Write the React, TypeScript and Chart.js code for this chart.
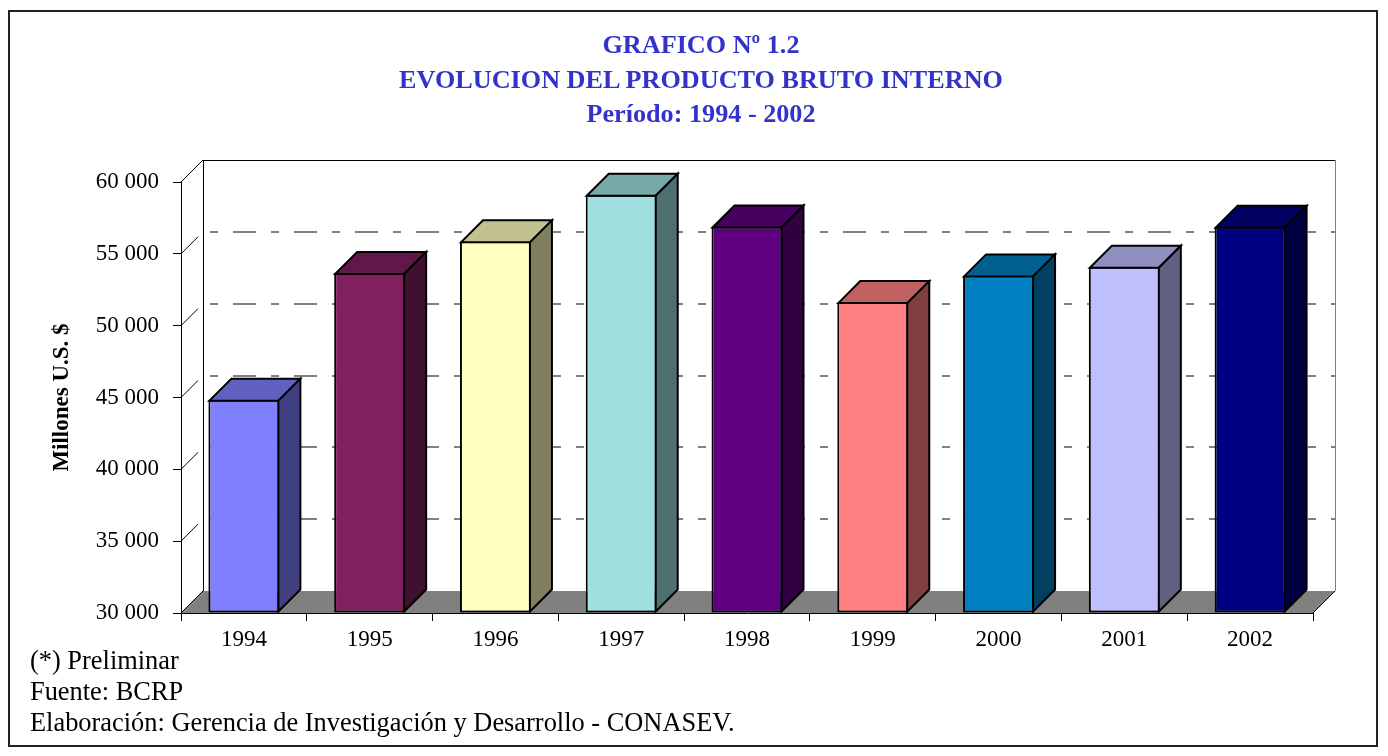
import React, { useEffect, useRef } from "react";
import { Chart, registerables } from "chart.js";

Chart.register(...registerables);

// ---- data ----
const years = ["1994", "1995", "1996", "1997", "1998", "1999", "2000", "2001", "2002"];
const pbi = [44850, 53670, 55870, 59110, 56900, 51640, 53500, 54100, 56880];
const yMin = 30000;
const yMax = 60000;
const yStep = 5000;
const titleLines = ["GRAFICO Nº 1.2", "EVOLUCION DEL PRODUCTO BRUTO INTERNO", "Período: 1994 - 2002"];
const yAxisTitle = "Millones U.S. $";
const notes = [
  "(*) Preliminar",
  "Fuente: BCRP",
  "Elaboración: Gerencia de Investigación y Desarrollo - CONASEV.",
];

// ---- styles ----
const frontColors = ["#8080FF", "#802060", "#FFFFC0", "#A0E0E0", "#600080", "#FF8080", "#0080C0", "#C0C0FF", "#000080"];
const topColors = ["#6060C0", "#601848", "#C0C090", "#78A8A8", "#480060", "#C06060", "#006090", "#9090C0", "#000060"];
const sideColors = ["#404080", "#401030", "#808060", "#507070", "#300040", "#804040", "#004060", "#606080", "#000040"];

const FONT = "'Liberation Serif', 'Times New Roman', Times, serif";
const DEPTH = 22;
const W = 1388;
const H = 756;

const fmt = (v: number) => String(v).replace(/\B(?=(\d{3})+(?!\d))/g, " ");

const threeD = {
  id: "threeD",
  beforeDraw(chart: any) {
    const { ctx, chartArea: a, scales } = chart;
    const y = scales.y;
    const d = DEPTH;
    ctx.save();
    // floor
    ctx.fillStyle = "#808080";
    ctx.beginPath();
    ctx.moveTo(a.left, a.bottom);
    ctx.lineTo(a.left + d, a.bottom - d);
    ctx.lineTo(a.right + d, a.bottom - d);
    ctx.lineTo(a.right, a.bottom);
    ctx.closePath();
    ctx.fill();

    // back wall gridlines
    ctx.strokeStyle = "#808080";
    ctx.lineWidth = 2;
    ctx.setLineDash([8, 15, 23, 15]);
    ctx.lineDashOffset = 54;
    y.ticks.forEach((t: any) => {
      if (t.value > yMin && t.value < yMax) {
        const py = Math.round(y.getPixelForValue(t.value)) - d;
        ctx.beginPath();
        ctx.moveTo(a.left + d, py);
        ctx.lineTo(a.right + d, py);
        ctx.stroke();
      }
    });
    ctx.setLineDash([]);

    // left wall tick diagonals
    ctx.strokeStyle = "#000";
    ctx.lineWidth = 1;
    y.ticks.forEach((t: any) => {
      const py = y.getPixelForValue(t.value);
      const len = t.value === yMax || t.value === yMin ? d : 17;
      ctx.beginPath();
      ctx.moveTo(a.left, py);
      ctx.lineTo(a.left + len, py - len);
      ctx.stroke();
    });

    // back wall edges
    ctx.beginPath();
    ctx.moveTo(a.left + d, a.top - d + 0.5);
    ctx.lineTo(a.right + d, a.top - d + 0.5);
    ctx.stroke();
    ctx.beginPath();
    ctx.moveTo(a.left + d + 0.5, a.top - d);
    ctx.lineTo(a.left + d + 0.5, a.bottom - d);
    ctx.stroke();
    ctx.strokeStyle = "#808080";
    ctx.beginPath();
    ctx.moveTo(a.right + d + 0.5, a.top - d);
    ctx.lineTo(a.right + d + 0.5, a.bottom - d);
    ctx.stroke();
    ctx.strokeStyle = "#000";
    ctx.beginPath();
    ctx.moveTo(a.right + d, a.bottom - d);
    ctx.lineTo(a.right, a.bottom);
    ctx.stroke();
    ctx.restore();
  },
  afterDatasetsDraw(chart: any) {
    const { ctx, chartArea: a } = chart;
    const meta = chart.getDatasetMeta(0);
    const d = DEPTH;
    ctx.save();
    ctx.strokeStyle = "#000";
    ctx.lineWidth = 2;
    ctx.lineJoin = "miter";
    meta.data.forEach((bar: any, i: number) => {
      const { x, y, base, width } = bar.getProps(["x", "y", "base", "width"], true);
      const L = x - width / 2 + 1;
      const R = x + width / 2 - 1;
      const T = y + 1;
      const B = Math.min(base, a.bottom) - 1;
      // top face
      ctx.fillStyle = topColors[i];
      ctx.beginPath();
      ctx.moveTo(L, T);
      ctx.lineTo(L + d, T - d);
      ctx.lineTo(R + d, T - d);
      ctx.lineTo(R, T);
      ctx.closePath();
      ctx.fill();
      ctx.stroke();
      // side face
      ctx.fillStyle = sideColors[i];
      ctx.beginPath();
      ctx.moveTo(R, T);
      ctx.lineTo(R + d, T - d);
      ctx.lineTo(R + d, B - d);
      ctx.lineTo(R, B);
      ctx.closePath();
      ctx.fill();
      ctx.stroke();
    });
    ctx.restore();
  },
};

export default function App() {
  const ref = useRef<HTMLCanvasElement>(null);

  useEffect(() => {
    if (!ref.current) return;
    const chart = new Chart(ref.current, {
      type: "bar",
      data: {
        labels: years,
        datasets: [
          {
            data: pbi,
            base: yMin,
            backgroundColor: frontColors,
            borderColor: "#000",
            borderWidth: 2,
            borderSkipped: false,
            barPercentage: 0.5645,
            categoryPercentage: 1,
          } as any,
        ],
      },
      options: {
        animation: false,
        responsive: false,
        devicePixelRatio: 1,
        events: [],
        layout: { padding: { left: 0, right: W - 1313, top: 182, bottom: 0 } },
        plugins: { legend: { display: false }, tooltip: { enabled: false }, title: { display: false } },
        scales: {
          x: {
            type: "category",
            afterFit: (s: any) => {
              s.height = H - 613;
            },
            grid: {
              display: true,
              drawOnChartArea: false,
              drawTicks: true,
              tickLength: 8,
              tickColor: "#000",
              offset: true,
            },
            border: { display: true, color: "#000", width: 1 },
            ticks: {
              color: "#000",
              font: { family: FONT, size: 23 },
              padding: 5,
              maxRotation: 0,
              autoSkip: false,
            },
          },
          y: {
            type: "linear",
            min: yMin,
            max: yMax,
            afterFit: (s: any) => {
              s.width = 181;
            },
            grid: {
              display: true,
              drawOnChartArea: false,
              drawTicks: true,
              tickLength: 8,
              tickColor: "#000",
            },
            border: { display: true, color: "#000", width: 1 },
            ticks: {
              stepSize: yStep,
              color: "#000",
              font: { family: FONT, size: 23 },
              padding: 14,
              callback: (v: any) => fmt(Number(v)),
            },
            title: {
              display: true,
              text: yAxisTitle,
              color: "#000",
              font: { family: FONT, size: 23, weight: "bold" },
              padding: { top: 48, bottom: 0 },
            },
          },
        },
      },
      plugins: [threeD],
    });
    return () => chart.destroy();
  }, []);

  return (
    <div style={{ position: "absolute", left: 0, top: 0, width: W, height: H, background: "#fff" }}>
      <div
        style={{
          position: "absolute",
          left: 8,
          top: 10,
          width: 1370,
          height: 737,
          border: "2px solid #222",
          boxSizing: "border-box",
        }}
      />
      <canvas ref={ref} width={W} height={H} style={{ position: "absolute", left: 0, top: 0, display: "block" }} />
      <div
        style={{
          position: "absolute",
          left: 0,
          top: 28,
          width: 1402,
          textAlign: "center",
          fontFamily: FONT,
          fontWeight: "bold",
          fontSize: 26.2,
          lineHeight: "34.5px",
          color: "#3333CC",
          whiteSpace: "nowrap",
        }}
      >
        {titleLines.map((t) => (
          <div key={t}>{t}</div>
        ))}
      </div>
      <div
        style={{
          position: "absolute",
          left: 30,
          top: 645,
          fontFamily: FONT,
          fontSize: 26.4,
          lineHeight: "31px",
          color: "#000",
          whiteSpace: "nowrap",
        }}
      >
        {notes.map((t) => (
          <div key={t}>{t}</div>
        ))}
      </div>
    </div>
  );
}
